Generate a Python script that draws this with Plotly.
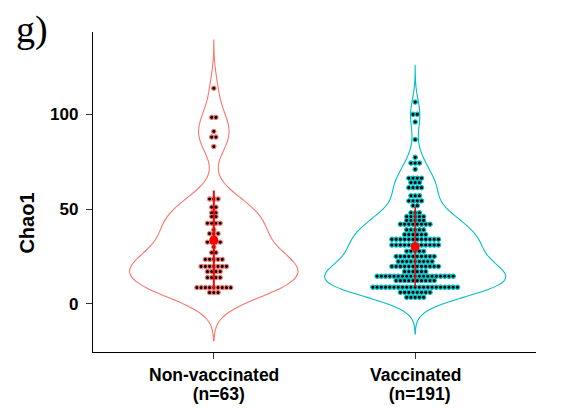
import numpy as np
import plotly.graph_objects as go

# Chao1 richness, binned as in the dot plot: bin level and number of samples in it
nonvax_levels = [113.8, 98.4, 91.0, 88.0, 83.0, 55.3, 51.0, 48.0, 46.0, 42.5, 39.0,
                 37.0, 32.5, 30.0, 27.0, 23.4, 19.7, 17.0, 13.8, 8.5, 5.9]
nonvax_counts = [1, 2, 1, 2, 1, 3, 2, 2, 2, 4, 1, 3, 4, 1, 2, 5, 7, 4, 4, 9, 3]

vax_levels = [106.5, 100.0, 96.0, 86.7, 77.3, 74.3, 71.0, 66.3, 64.0, 61.3, 57.0,
              54.3, 51.8, 48.0, 46.0, 44.0, 42.0, 39.0, 36.5, 34.0, 31.0, 27.7,
              25.0, 22.3, 19.7, 17.0, 14.5, 12.2, 8.7, 6.0, 3.4]
vax_counts = [1, 2, 1, 1, 1, 3, 1, 4, 3, 4, 3, 4, 2, 3, 5, 5, 8, 5, 6, 12, 12, 5,
              10, 9, 12, 6, 19, 10, 21, 8, 5]

group_names = ["Non-vaccinated", "Vaccinated"]
group_n = ["(n=63)", "(n=191)"]
y_ticks = [0, 50, 100]

colors = ["#F8766D", "#00BFC4"]
violin_widths = [0.836, 0.9]
mean_line_widths = [2.0, 1.5]
dot_pitch = 0.021  # horizontal spacing of stacked dots, in x units

groups = [(nonvax_levels, nonvax_counts), (vax_levels, vax_counts)]

fig = go.Figure()

for gi, (levels, counts) in enumerate(groups):
    xpos = gi + 1
    vals = np.repeat(np.array(levels, dtype=float), counts)
    n = len(vals)
    sd = vals.std(ddof=1)
    q1, q3 = np.percentile(vals, [25, 75])
    bw = 0.9 * min(sd, (q3 - q1) / 1.34) * n ** -0.2  # bw.nrd0

    fig.add_trace(go.Violin(
        x=[xpos] * n, y=vals, bandwidth=bw,
        spanmode="manual", span=[vals.min() - 3 * bw, vals.max() + 3 * bw],
        width=violin_widths[gi], scalemode="width", side="both",
        line=dict(color=colors[gi], width=1.1),
        fillcolor="rgba(0,0,0,0)", points=False,
        box_visible=False, meanline_visible=False,
        showlegend=False, hoverinfo="skip",
    ))

    # centred dot stacks
    dx, dy = [], []
    for lv, c in zip(levels, counts):
        for j in range(c):
            dx.append(xpos + (j - (c - 1) / 2) * dot_pitch)
            dy.append(lv)
    fig.add_trace(go.Scatter(
        x=dx, y=dy, mode="markers",
        marker=dict(size=4.3, color="black",
                    line=dict(color=colors[gi], width=1.2)),
        showlegend=False, hoverinfo="skip",
    ))

    # mean +/- SD
    m = vals.mean()
    fig.add_trace(go.Scatter(
        x=[xpos, xpos], y=[m - sd, m + sd], mode="lines",
        line=dict(color="#FF0000", width=mean_line_widths[gi]),
        showlegend=False, hoverinfo="skip",
    ))
    fig.add_trace(go.Scatter(
        x=[xpos], y=[m], mode="markers",
        marker=dict(size=9, color="#FF0000"),
        showlegend=False, hoverinfo="skip",
    ))

sans = "Liberation Sans, Arial, sans-serif"
tick_font = dict(family=sans, size=17, color="black", weight="bold")
label_font = dict(family=sans, size=17.5, color="black", weight="bold")

fig.update_layout(
    width=561, height=408,
    margin=dict(l=93, r=25, t=32, b=56),
    plot_bgcolor="white", paper_bgcolor="white",
    violinmode="overlay",
    xaxis=dict(
        range=[0.4, 2.6], showgrid=False, zeroline=False,
        showline=True, linecolor="black", linewidth=1.3,
        ticks="outside", ticklen=6, tickwidth=1.1, tickcolor="#333333",
        tickvals=[1, 2], showticklabels=False,
    ),
    yaxis=dict(
        range=[-25.5, 143.5], showgrid=False, zeroline=False,
        showline=True, linecolor="black", linewidth=1.3,
        ticks="outside", ticklen=6, tickwidth=1.1, tickcolor="#333333",
        tickvals=y_ticks, ticktext=[str(t) for t in y_ticks],
        tickfont=tick_font, ticklabelstandoff=4,
    ),
)

for gi in range(2):
    fig.add_annotation(x=gi + 1, y=-0.072, xref="x", yref="paper",
                       text=group_names[gi], showarrow=False,
                       xanchor="center", yanchor="middle", font=label_font)
    fig.add_annotation(x=gi + 1, y=-0.13, xref="x", yref="paper",
                       text="\u00a0\u00a0" + group_n[gi], showarrow=False,
                       xanchor="center", yanchor="middle", font=label_font)

fig.add_annotation(x=-0.15, y=0.403, xref="paper", yref="paper",
                   text="Chao1", textangle=-90, showarrow=False,
                   xanchor="center", yanchor="middle",
                   font=dict(family=sans, size=20, color="black", weight="bold"))

fig.add_annotation(x=-0.178, y=1.082, xref="paper", yref="paper",
                   text="g)", showarrow=False, xanchor="left", yanchor="top",
                   font=dict(family="Liberation Serif, Times New Roman, serif", size=38, color="black"))

fig.write_html("out.html")
